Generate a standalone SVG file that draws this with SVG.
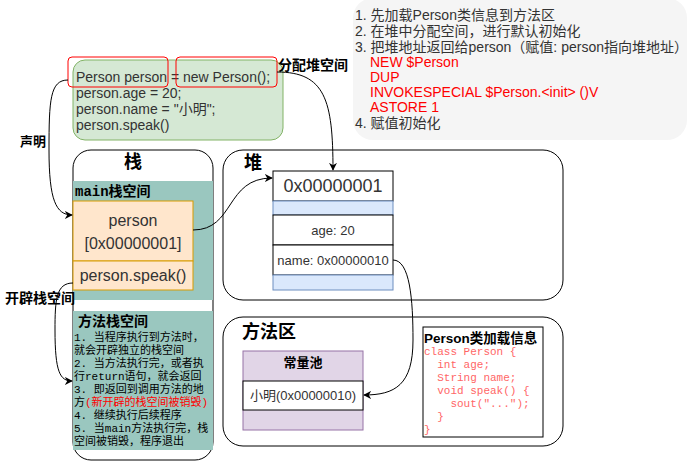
<svg xmlns="http://www.w3.org/2000/svg" width="690" height="461" viewBox="0 0 690 461">
<defs>
<marker id="arr" viewBox="0 0 10 10" refX="9" refY="5" markerWidth="8" markerHeight="8" orient="auto" markerUnits="userSpaceOnUse">
<path d="M0,0 L10,5 L0,10 L3,5 Z" fill="#000"/>
</marker>
<style>
.t{font-family:"Liberation Sans","Noto Sans CJK SC",sans-serif;fill:#333;}
.b{font-family:"Liberation Sans","Noto Sans CJK SC",sans-serif;font-weight:bold;fill:#000;}
.m{font-family:"Liberation Mono","Noto Sans CJK SC",monospace;}
.red{fill:#ff0000;}
.code{font-family:"Liberation Mono",monospace;font-size:11px;fill:#ff6666;}
.ln{fill:none;stroke:#000;stroke-width:1;}
.cont{fill:#fff;stroke:#000;stroke-width:1;}
</style>
</defs>
<rect width="690" height="461" fill="#fff"/>

<g id="steps">
<rect x="353" y="-2" width="334" height="142" rx="20" fill="#f5f5f5"/>
<g class="t" font-size="14">
<text x="355" y="20">1. 先加载Person类信息到方法区</text>
<text x="355" y="36">2. 在堆中分配空间，进行默认初始化</text>
<text x="355" y="52">3. 把堆地址返回给person（赋值: person指向堆地址）</text>
<text x="370" y="67" class="red">NEW $Person</text>
<text x="370" y="82" class="red">DUP</text>
<text x="370" y="97" class="red">INVOKESPECIAL $Person.&lt;init&gt; ()V</text>
<text x="370" y="112" class="red">ASTORE 1</text>
<text x="355" y="128">4. 赋值初始化</text>
</g>
</g>

<g id="code">
<rect x="73" y="60" width="210" height="80" rx="12" fill="#d5e8d4" stroke="#82b366"/>
<g class="t" font-size="14">
<text x="76" y="82">Person person = new Person();</text>
<text x="76" y="98">person.age = 20;</text>
<text x="76" y="114">person.name = "小明";</text>
<text x="76" y="130">person.speak()</text>
</g>
<rect x="68" y="57" width="100" height="30" rx="4" fill="none" stroke="#ff0000"/>
<rect x="176" y="57" width="101" height="30" rx="4" fill="none" stroke="#ff0000"/>
</g>

<g id="stack">
<rect x="73" y="150" width="140" height="310" rx="18" class="cont"/>
<text x="133" y="168" class="b" font-size="18" text-anchor="middle">栈</text>
</g>

<g id="main-frame">
<rect x="73" y="181" width="140" height="119" fill="#9ac7bf"/>
<text x="75" y="196" class="b m" font-size="14">main栈空间</text>
<rect x="73" y="201" width="120" height="60" fill="#ffe6cc" stroke="#d79b00"/>
<text x="133" y="226" class="t" font-size="16" text-anchor="middle">person</text>
<text x="133" y="249" class="t" font-size="16" text-anchor="middle">[0x00000001]</text>
<rect x="73" y="261" width="120" height="29" fill="#ffe6cc" stroke="#d79b00"/>
<text x="133" y="281" class="t" font-size="16" text-anchor="middle">person.speak()</text>
</g>

<g id="method-frame">
<rect x="73" y="311" width="140" height="139" fill="#9ac7bf"/>
<text x="78" y="326" class="b" font-size="14">方法栈空间</text>
<g class="m" font-size="11" fill="#000">
<text x="74" y="341">1. 当程序执行到方法时，</text>
<text x="74" y="354">就会开辟独立的栈空间</text>
<text x="74" y="367">2. 当方法执行完，或者执</text>
<text x="74" y="380">行return语句，就会返回</text>
<text x="74" y="393">3. 即返回到调用方法的地</text>
<text x="74" y="406">方<tspan fill="#ff0000">(新开辟的栈空间被销毁)</tspan></text>
<text x="74" y="419">4. 继续执行后续程序</text>
<text x="74" y="432">5. 当main方法执行完，栈</text>
<text x="74" y="445">空间被销毁，程序退出</text>
</g>
</g>

<g id="heap">
<rect x="223" y="150" width="340" height="150" rx="20" class="cont"/>
<text x="244" y="169" class="b" font-size="18">堆</text>
</g>

<g id="object">
<rect x="273" y="171" width="120" height="30" fill="#fff" stroke="#000"/>
<text x="333" y="192" class="t" font-size="18" text-anchor="middle">0x00000001</text>
<rect x="273" y="201" width="120" height="14" fill="#dae8fc" stroke="#6c8ebf"/>
<rect x="273" y="215" width="120" height="30" fill="#fff" stroke="#000"/>
<text x="333" y="235" class="t" font-size="13" text-anchor="middle">age: 20</text>
<rect x="273" y="245" width="120" height="30" fill="#fff" stroke="#000"/>
<text x="333" y="265" class="t" font-size="13" text-anchor="middle">name: 0x00000010</text>
<rect x="273" y="275" width="120" height="15" fill="#dae8fc" stroke="#6c8ebf"/>
</g>

<g id="method-area">
<rect x="223" y="317" width="340" height="129" rx="20" class="cont"/>
<text x="242" y="338" class="b" font-size="18">方法区</text>
</g>

<g id="const-pool">
<rect x="243" y="351" width="120" height="79" fill="#e1d5e7" stroke="#9673a6"/>
<text x="303" y="367" class="b" font-size="13" text-anchor="middle">常量池</text>
<rect x="243" y="381" width="120" height="29" fill="#fff" stroke="#000"/>
<text x="303" y="400" class="t" font-size="13" text-anchor="middle">小明(0x00000010)</text>
</g>

<g id="class-info">
<rect x="423" y="327" width="120" height="110" fill="#fff" stroke="#000"/>
<text x="424" y="343" class="b" font-size="13.5">Person类加载信息</text>
<text x="424" y="355" class="code" xml:space="preserve">class Person {</text>
<text x="424" y="368" class="code" xml:space="preserve">  int age;</text>
<text x="424" y="381" class="code" xml:space="preserve">  String name;</text>
<text x="424" y="394" class="code" xml:space="preserve">  void speak() {</text>
<text x="424" y="407" class="code" xml:space="preserve">    sout("...");</text>
<text x="424" y="420" class="code" xml:space="preserve">  }</text>
<text x="424" y="433" class="code" xml:space="preserve">}</text>
</g>

<g id="connectors">
<path class="ln" d="M68,80 C50,80 49,100 49,150 C49,200 56,215 72,215" marker-end="url(#arr)"/>
<path class="ln" d="M277,72 C325,72 333,100 333,170" marker-end="url(#arr)"/>
<path class="ln" d="M193,230 C235,230 225,178 272,178" marker-end="url(#arr)"/>
<path class="ln" d="M393,260 C410,260 413,300 413,340 C413,385 395,395 364,395" marker-end="url(#arr)"/>
<path class="ln" d="M73,283 C56,283 55,300 55,330 C55,372 60,381 72,381" marker-end="url(#arr)"/>
<text x="20" y="146" class="b" font-size="13">声明</text>
<text x="278" y="70" class="b" font-size="14">分配堆空间</text>
<text x="5" y="303" class="b" font-size="14">开辟栈空间</text>
</g>
</svg>
